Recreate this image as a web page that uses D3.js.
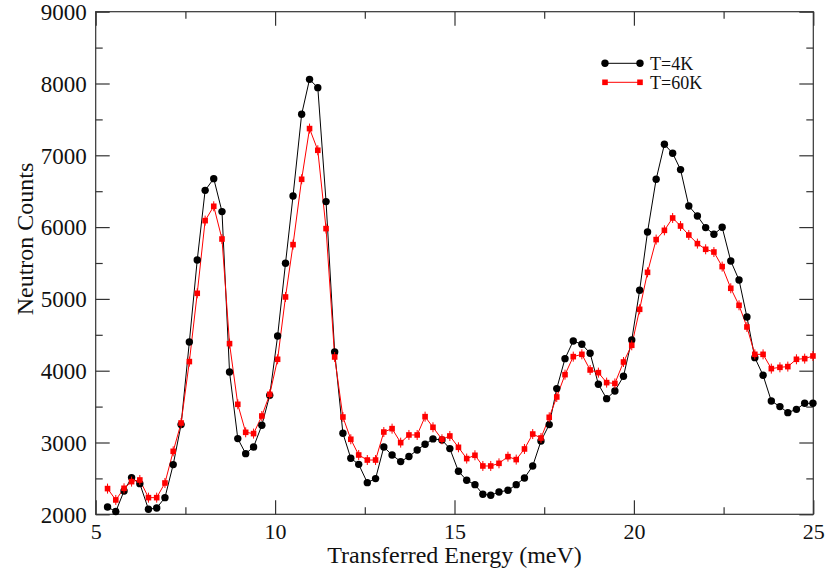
<!DOCTYPE html>
<html>
<head>
<meta charset="utf-8">
<script src="https://cdn.jsdelivr.net/npm/d3@7"></script>
<style>
  html, body { margin: 0; padding: 0; background: #fff; }
  svg { display: block; }
  text { font-family: "Liberation Serif", "DejaVu Serif", serif; fill: #111; }
</style>
</head>
<body>
<svg id="chart" width="825" height="575"></svg>
<script>
// ---- data ----
const energy = [
  5.33, 5.56, 5.79, 6.00, 6.23, 6.47, 6.70, 6.93, 7.16, 7.38,
  7.61, 7.83, 8.05, 8.29, 8.52, 8.73, 8.96, 9.18, 9.40, 9.63,
  9.85, 10.07, 10.29, 10.50, 10.74, 10.96, 11.19, 11.42, 11.66, 11.89,
  12.11, 12.33, 12.57, 12.80, 13.03, 13.26, 13.50, 13.73, 13.96, 14.18,
  14.40, 14.65, 14.87, 15.11, 15.34, 15.57, 15.79, 16.01, 16.24, 16.49,
  16.72, 16.95, 17.18, 17.41, 17.64, 17.85, 18.08, 18.31, 18.55, 18.78,
  19.01, 19.24, 19.47, 19.71, 19.94, 20.16, 20.38, 20.62, 20.85, 21.08,
  21.30, 21.53, 21.77, 22.00, 22.23, 22.46, 22.70, 22.93, 23.15, 23.37,
  23.60, 23.83, 24.07, 24.29, 24.53, 24.76, 24.99
];
const counts4K = [
  2102, 2038, 2325, 2511, 2427, 2070, 2088, 2232, 2692, 3249,
  4400, 5542, 6512, 6675, 6216, 3982, 3054, 2845, 2938, 3240,
  3657, 4483, 5496, 6434, 7571, 8058, 7942, 6355, 4261, 3128,
  2780, 2696, 2441, 2497, 2937, 2826, 2734, 2804, 2896, 2975,
  3050, 3035, 2915, 2599, 2474, 2413, 2279, 2265, 2311, 2334,
  2413, 2506, 2673, 3021, 3249, 3751, 4168, 4414, 4368, 4242,
  3811, 3611, 3717, 3922, 4428, 5120, 5932, 6666, 7153, 7028,
  6801, 6294, 6155, 5993, 5900, 5997, 5528, 5263, 4748, 4182,
  3936, 3578, 3500, 3416, 3462, 3546, 3546
];
const counts60K = [
  2358, 2200, 2362, 2455, 2478, 2232, 2232, 2436, 2877, 3272,
  4127, 5078, 6090, 6290, 5834, 4377, 3532, 3142, 3124, 3369,
  3671, 4159, 5027, 5756, 6666, 7372, 7070, 5979, 4191, 3355,
  3045, 2826, 2756, 2756, 3146, 3193, 2998, 3105, 3105, 3360,
  3212, 3045, 3091, 2933, 2776, 2822, 2673, 2673, 2710, 2803,
  2762, 2910, 3118, 3063, 3351, 3634, 3945, 4196, 4228, 4010,
  3973, 3834, 3822, 4121, 4354, 4855, 5370, 5826, 5955, 6127,
  6015, 5890, 5770, 5691, 5653, 5450, 5148, 4911, 4609, 4228,
  4228, 4029, 4047, 4057, 4159, 4168, 4205
];
const xMajorTicks = [5, 10, 15, 20, 25];
const xMinorTicks = [7.5, 12.5, 17.5, 22.5];
const yMajorTicks = [2000, 3000, 4000, 5000, 6000, 7000, 8000, 9000];
const yMinorTicks = [2500, 3500, 4500, 5500, 6500, 7500, 8500];
const seriesNames = ["T=4K", "T=60K"];
const xTitle = "Transferred Energy (meV)";
const yTitle = "Neutron Counts";

// ---- layout ----
const L = 95.7, R = 813.3, T = 11.7, B = 514.3;
const x = d3.scaleLinear().domain([5, 25]).range([L, R]);
const y = d3.scaleLinear().domain([2000, 9000]).range([B, T]);
const svg = d3.select("#chart");
const axisColor = "#333";
const majorLen = 14, minorLen = 7;

// frame
svg.append("rect").attr("x", L).attr("y", T).attr("width", R - L).attr("height", B - T)
  .attr("fill", "none").attr("stroke", axisColor).attr("stroke-width", 1.2);

function addAxis(gen, transform) {
  const g = svg.append("g").attr("transform", transform).call(gen);
  g.select(".domain").remove();
  g.selectAll(".tick line").attr("stroke", axisColor).attr("stroke-width", 1.2);
  return g;
}
// bottom
const xb = addAxis(d3.axisBottom(x).tickValues(xMajorTicks).tickSize(-majorLen).tickPadding(0).tickFormat(d3.format("d")), `translate(0,${B})`);
xb.selectAll("text").attr("font-size", 22).attr("dy", null).attr("y", 25).attr("font-family", "Liberation Serif").attr("fill", "#111");
addAxis(d3.axisBottom(x).tickValues(xMinorTicks).tickSize(-minorLen).tickFormat(""), `translate(0,${B})`);
// top
addAxis(d3.axisTop(x).tickValues(xMajorTicks).tickSize(-majorLen).tickFormat(""), `translate(0,${T})`);
addAxis(d3.axisTop(x).tickValues(xMinorTicks).tickSize(-minorLen).tickFormat(""), `translate(0,${T})`);
// left
const yl = addAxis(d3.axisLeft(y).tickValues(yMajorTicks).tickSize(-majorLen).tickPadding(0).tickFormat(d3.format("d")), `translate(${L},0)`);
yl.selectAll("text").attr("font-size", 23).attr("x", -9).attr("dy", "0.34em").attr("font-family", "Liberation Serif").attr("fill", "#111");
addAxis(d3.axisLeft(y).tickValues(yMinorTicks).tickSize(-minorLen).tickFormat(""), `translate(${L},0)`);
// right
addAxis(d3.axisRight(y).tickValues(yMajorTicks).tickSize(-majorLen).tickFormat(""), `translate(${R},0)`);
addAxis(d3.axisRight(y).tickValues(yMinorTicks).tickSize(-minorLen).tickFormat(""), `translate(${R},0)`);

// titles
svg.append("text").attr("x", (L + R) / 2).attr("y", 563).attr("text-anchor", "middle")
  .attr("font-size", 24).text(xTitle);
svg.append("text").attr("transform", "translate(33,239) rotate(-90)").attr("text-anchor", "middle")
  .attr("font-size", 24).text(yTitle);

// series
const d4 = energy.map((e, i) => [e, counts4K[i]]);
const d60 = energy.map((e, i) => [e, counts60K[i]]);
const line = d3.line().x(d => x(d[0])).y(d => y(d[1]));

svg.append("path").datum(d4).attr("d", line).attr("fill", "none").attr("stroke", "#000").attr("stroke-width", 1);
svg.append("path").datum(d60).attr("d", line).attr("fill", "none").attr("stroke", "#f00").attr("stroke-width", 1);

svg.append("g").selectAll("circle").data(d4).join("circle")
  .attr("cx", d => x(d[0])).attr("cy", d => y(d[1])).attr("r", 3.7).attr("fill", "#000");
const sq = 5.6;
const g60 = svg.append("g");
g60.selectAll("line").data(d60).join("line")
  .attr("x1", d => x(d[0])).attr("x2", d => x(d[0]))
  .attr("y1", d => y(d[1]) - 5).attr("y2", d => y(d[1]) + 5)
  .attr("stroke", "#f00").attr("stroke-width", 1);
g60.selectAll("rect").data(d60).join("rect")
  .attr("x", d => x(d[0]) - sq / 2).attr("y", d => y(d[1]) - sq / 2)
  .attr("width", sq).attr("height", sq).attr("fill", "#f00");

// legend
const lg = svg.append("g");
const lx1 = 605, lx2 = 640;
const ly = [63.3, 82.3];
lg.append("line").attr("x1", lx1).attr("x2", lx2).attr("y1", ly[0]).attr("y2", ly[0]).attr("stroke", "#000");
[lx1, lx2].forEach(px => lg.append("circle").attr("cx", px).attr("cy", ly[0]).attr("r", 3.7).attr("fill", "#000"));
lg.append("line").attr("x1", lx1).attr("x2", lx2).attr("y1", ly[1]).attr("y2", ly[1]).attr("stroke", "#f00");
[lx1, lx2].forEach(px => lg.append("rect").attr("x", px - sq / 2).attr("y", ly[1] - sq / 2).attr("width", sq).attr("height", sq).attr("fill", "#f00"));
seriesNames.forEach((n, i) => lg.append("text").attr("x", 650).attr("y", ly[i] + 6.5).attr("font-size", 18).text(n));
</script>
</body>
</html>
